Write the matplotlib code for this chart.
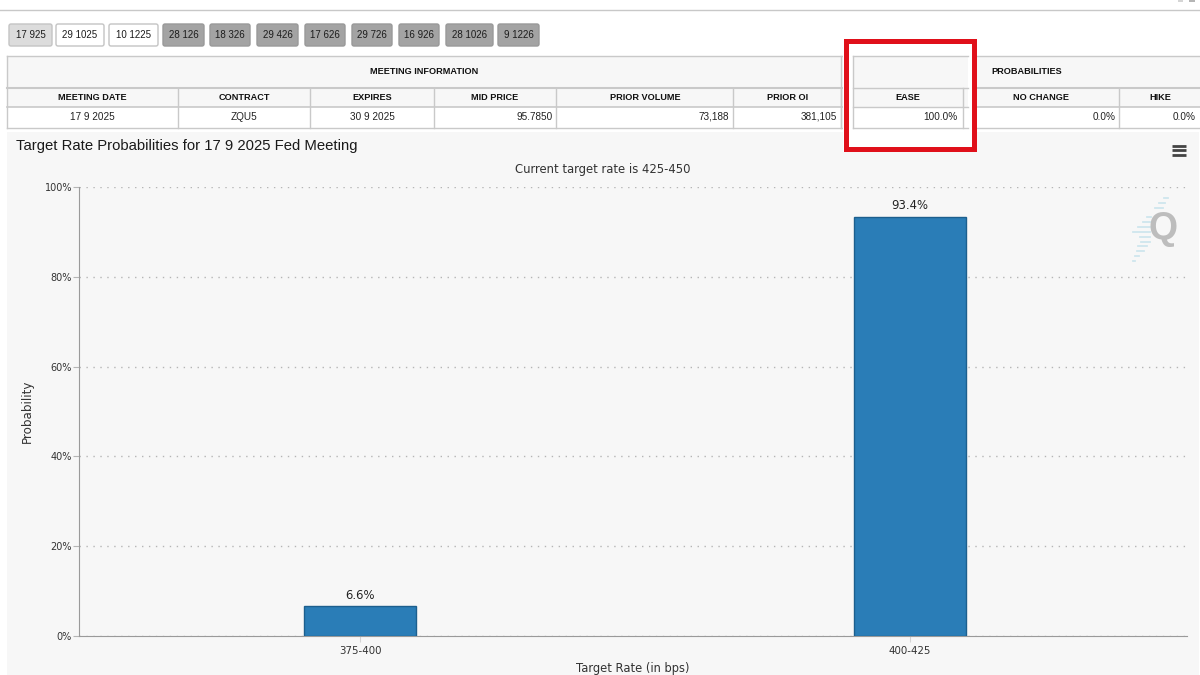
import matplotlib
matplotlib.use("Agg")
import matplotlib.pyplot as plt
from matplotlib.patches import Rectangle, FancyBboxPatch

# ---- data ----
categories = ["375-400", "400-425"]
probabilities = [6.6, 93.4]
y_ticks = [0, 20, 40, 60, 80, 100]

button_labels = ["17 925", "29 1025", "10 1225", "28 126", "18 326", "29 426",
                 "17 626", "29 726", "16 926", "28 1026", "9 1226"]
button_edges = [(8, 53), (55, 105), (108, 159), (162, 205), (209, 251), (256, 299),
                (304, 346), (351, 393), (398, 440), (445, 494), (497, 540)]
button_fills = ["#dcdcdc", "#ffffff", "#ffffff"] + ["#a3a3a3"] * 8

col_headers = ["MEETING DATE", "CONTRACT", "EXPIRES", "MID PRICE", "PRIOR VOLUME",
               "PRIOR OI", "EASE", "NO CHANGE", "HIKE"]
col_values = ["17 9 2025", "ZQU5", "30 9 2025", "95.7850", "73,188", "381,105",
              "100.0%", "0.0%", "0.0%"]
col_lines = [177.5, 310, 433.5, 556, 733, 841, 963, 1119]
header_centers = [92, 244, 372, 495, 645, 787.5, 908, 1041, 1160]
value_centers = [92, 244, 372]
value_rights = [None, None, None, 552.5, 729.5, 837.5, 958, 1115.5, 1196]

SANS = "Liberation Sans"
CHART = "DejaVu Sans"

fig = plt.figure(figsize=(12, 6.75), dpi=100, facecolor="white")

# page chrome, in pixel coordinates
bg = fig.add_axes([0, 0, 1, 1], zorder=0)
bg.set_xlim(0, 1200)
bg.set_ylim(675, 0)
bg.axis("off")

bg.plot([0, 1200], [9.5, 9.5], color="#c8c8c8", lw=1)
bg.add_patch(Rectangle((1178, 0), 5, 1.5, fc="#d5d5d5", ec="none"))
bg.add_patch(Rectangle((1189, 0), 6, 1.5, fc="#b5b5b5", ec="none"))

for lab, (a, b), fc in zip(button_labels, button_edges, button_fills):
    bg.add_patch(FancyBboxPatch((a + 1, 24), b - a - 2, 22, boxstyle="round,pad=0,rounding_size=2",
                                fc=fc, ec="#c4c4c4" if fc != "#a3a3a3" else "#999999", lw=1))
    bg.text((a + b) / 2, 34.5, lab, ha="center", va="center", fontsize=7, family=SANS, color="#1c1c1c")

# table
line = "#c9c9c9"
bg.add_patch(Rectangle((6.5, 56), 1193.5, 51, fc="#f7f7f7", ec="none"))
bg.add_patch(Rectangle((6.5, 107), 1193.5, 21, fc="white", ec="none"))
for y, w in [(56, 1), (88, 1.5), (107, 1.2), (128, 1)]:
    bg.plot([6.5, 1200], [y, y], color=line, lw=w)
bg.plot([6.5, 6.5], [56, 128], color=line, lw=1)
bg.plot([841, 841], [56, 128], color=line, lw=1)
for x in col_lines:
    bg.plot([x, x], [88, 128], color=line, lw=1)
bg.text(424, 72, "MEETING INFORMATION", ha="center", va="center", fontsize=6.6, weight="bold", family=SANS, color="#111111")
bg.text(1027, 72, "PROBABILITIES", ha="center", va="center", fontsize=6.6, weight="bold", family=SANS, color="#111111")

# chart panel
bg.add_patch(Rectangle((6.5, 132), 1192, 543, fc="#f7f7f7", ec="none"))

# highlighted cell with red box: white ground, then the cell redrawn inside it
bg.add_patch(Rectangle((843, 38), 134, 114, fc="white", ec="none", zorder=2))
bg.add_patch(Rectangle((853, 56), 115, 51, fc="#f7f7f7", ec="none", zorder=2))
for xs, ys in [([853, 968], [56, 56]), ([853, 968], [88, 88]), ([853, 968], [107, 107]),
               ([853, 968], [128, 128]), ([853, 853], [56, 128]), ([963, 963], [88, 128])]:
    bg.plot(xs, ys, color=line, lw=1, zorder=2.5)
bg.add_patch(Rectangle((846, 41), 127.5, 108, fc="none", ec="#e0101a", lw=3.6, zorder=5))

for i, (h, v) in enumerate(zip(col_headers, col_values)):
    bg.text(header_centers[i], 97, h, ha="center", va="center", fontsize=6.6, weight="bold",
            family=SANS, color="#111111", zorder=6)
    if value_rights[i] is None:
        bg.text(value_centers[i], 116.5, v, ha="center", va="center", fontsize=7.2, family=SANS, color="#222222", zorder=6)
    else:
        bg.text(value_rights[i], 116.5, v, ha="right", va="center", fontsize=7.2, family=SANS, color="#222222", zorder=6)

bg.text(16, 146, "Target Rate Probabilities for 17 9 2025 Fed Meeting", ha="left", va="center",
        fontsize=10.7, family=SANS, color="#1a1a1a")
bg.text(603, 170, "Current target rate is 425-450", ha="center", va="center",
        fontsize=8.4, family=CHART, color="#333333")

# hamburger menu
for y in (145.5, 150, 154.5):
    bg.plot([1172, 1186], [y, y], color="#444444", lw=2, solid_capstyle="butt")

# watermark
for y, a, b in [(198, 1164, 1168), (203, 1159, 1165), (208, 1155, 1163), (217, 1147, 1151),
                (222, 1143, 1150), (227, 1138, 1150), (232, 1133, 1150), (237, 1140, 1150),
                (242, 1141, 1150), (246, 1138, 1147), (251, 1137, 1144), (256, 1135, 1139),
                (261, 1133, 1135)]:
    bg.plot([a, b], [y, y], color="#cfe6ee", lw=1.3)
bg.text(1163.5, 229, "Q", ha="center", va="center", fontsize=27, weight="bold", family=SANS, color="#bdbdbd")

# bar chart, on real axes
ax = fig.add_axes([79 / 1200, 1 - 636 / 675, (1187 - 79) / 1200, (636 - 187) / 675], zorder=1)
ax.patch.set_alpha(0)
positions = list(range(len(categories)))
bars = ax.bar(positions, probabilities, width=112 / 550, color="#2a7db7", edgecolor="#1c5f8e", lw=1, zorder=3)
ax.set_xlim(-281 / 550, 827 / 550)
ax.set_ylim(0, 100)
ax.set_xticks(positions)
ax.set_xticklabels(categories, fontsize=7.4, family=CHART, color="#333333")
ax.set_yticks(y_ticks)
ax.set_yticklabels([f"{v}%" for v in y_ticks], fontsize=7, family=CHART, color="#333333")
ax.set_ylabel("Probability", fontsize=8.6, family=CHART, color="#333333", labelpad=7.5)
ax.set_xlabel("Target Rate (in bps)", fontsize=8.3, family=CHART, color="#333333", labelpad=4.5)
ax.grid(axis="y", color="#b5b5b5", ls=(0, (1, 4)), lw=1, zorder=0)
ax.set_axisbelow(True)
for s in ("top", "right"):
    ax.spines[s].set_visible(False)
for s in ("left", "bottom"):
    ax.spines[s].set_color("#9a9a9a")
ax.tick_params(axis="y", length=4.5, color="#b5b5b5", pad=0.5)
ax.tick_params(axis="x", length=4, color="#d5d5d5", pad=3)
ax.bar_label(bars, labels=[f"{v}%" for v in probabilities], padding=3.5, fontsize=8.4, family=CHART, color="#222222")

fig.savefig("out.png", dpi=100, facecolor="white")
